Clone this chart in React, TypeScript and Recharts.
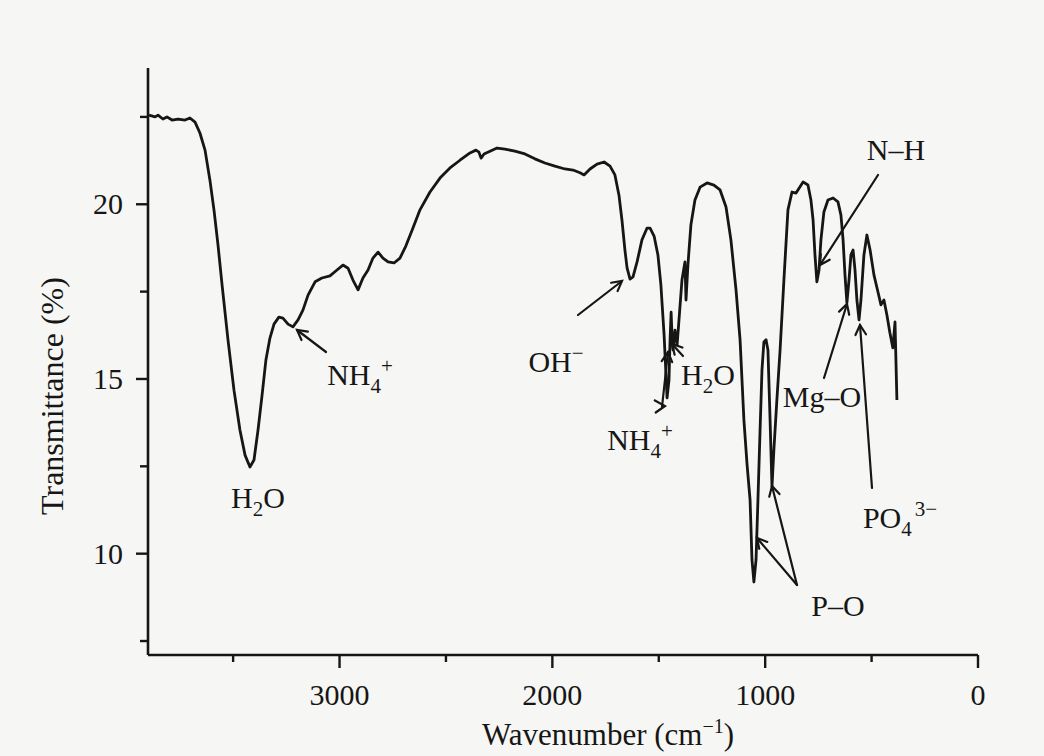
import React from "react";
import { LineChart, Line, XAxis, YAxis } from "recharts";

// FTIR spectrum, wavenumber (cm-1) against transmittance (%)
const wavenumbers = [
  3895, 3867, 3853, 3830, 3811, 3787, 3759, 3726, 3703, 3679,
  3656, 3632, 3609, 3590, 3571, 3552, 3524, 3496, 3468, 3444,
  3421, 3402, 3383, 3364, 3346, 3327, 3308, 3285, 3266, 3242,
  3219, 3195, 3172, 3148, 3115, 3083, 3045, 3012, 2984, 2960,
  2937, 2913, 2890, 2866, 2843, 2819, 2796, 2772, 2744, 2716,
  2688, 2655, 2622, 2575, 2528, 2481, 2434, 2387, 2359, 2345,
  2335, 2321, 2293, 2260, 2223, 2176, 2129, 2082, 2035, 1988,
  1941, 1903, 1870, 1851, 1823, 1790, 1757, 1729, 1706, 1687,
  1673, 1659, 1649, 1635, 1621, 1602, 1579, 1555, 1541, 1522,
  1504, 1490, 1475, 1466, 1461, 1452, 1447, 1442, 1438, 1433,
  1424, 1414, 1405, 1391, 1377, 1372, 1363, 1349, 1330, 1306,
  1273, 1241, 1212, 1184, 1161, 1137, 1118, 1100, 1085, 1071,
  1062, 1053, 1043, 1034, 1024, 1015, 1006, 996, 987, 977,
  968, 959, 945, 930, 912, 893, 874, 855, 846, 822,
  799, 785, 775, 766, 757, 747, 738, 724, 705, 681,
  658, 644, 634, 625, 616, 606, 597, 587, 578, 569,
  559, 550, 536, 522, 507, 489, 470, 456, 442, 428,
  414, 400, 390, 381,
];

const transmittance = [
  22.55, 22.5, 22.55, 22.44, 22.5, 22.41, 22.44, 22.41, 22.47, 22.35,
  22.04, 21.55, 20.69, 19.84, 18.83, 17.69, 16.11, 14.68, 13.54, 12.82,
  12.48, 12.68, 13.54, 14.54, 15.54, 16.17, 16.57, 16.77, 16.74, 16.57,
  16.49, 16.69, 16.97, 17.4, 17.78, 17.89, 17.95, 18.12, 18.26, 18.17,
  17.83, 17.55, 17.89, 18.12, 18.46, 18.63, 18.46, 18.35, 18.32, 18.46,
  18.81, 19.32, 19.84, 20.35, 20.75, 21.04, 21.26, 21.47, 21.55, 21.49,
  21.32, 21.44, 21.52, 21.61, 21.58, 21.52, 21.44, 21.3, 21.18, 21.09,
  21.01, 20.98, 20.9, 20.84, 21.01, 21.15, 21.21, 21.09, 20.84, 20.26,
  19.55, 18.69, 18.18, 17.86, 17.92, 18.35, 18.98, 19.32, 19.32, 19.09,
  18.55, 17.69, 16.26, 15.11, 14.46, 14.97, 16.11, 16.91, 16.26, 15.83,
  16.4, 15.97, 16.69, 17.83, 18.35, 17.26, 18.26, 19.41, 20.12, 20.49,
  20.61, 20.55, 20.41, 19.92, 18.98, 17.55, 16.12, 13.83, 12.54, 11.54,
  9.82, 9.19, 9.82, 11.54, 13.54, 15.26, 16.06, 16.12, 15.83, 13.83,
  11.92, 12.98, 14.4, 15.83, 17.83, 19.84, 20.35, 20.32, 20.41, 20.64,
  20.55, 20.12, 19.55, 18.55, 17.78, 18.12, 18.98, 19.78, 20.12, 20.18,
  20.07, 19.69, 18.98, 17.98, 17.18, 17.84, 18.55, 18.69, 18.12, 17.26,
  16.69, 17.26, 18.55, 19.12, 18.69, 17.98, 17.49, 17.12, 17.26, 16.83,
  16.32, 15.89, 16.63, 14.4,
];

const xTicks = [0, 500, 1000, 1500, 2000, 2500, 3000, 3500];
const yTicks = [7.5, 10, 12.5, 15, 17.5, 20, 22.5];
const xLabelled = [0, 1000, 2000, 3000];
const yLabelled = [10, 15, 20];

const data = wavenumbers.map((wn, i) => ({ wn, t: transmittance[i] }));

const INK = "#161616";
const FONT = '"Liberation Serif", "Times New Roman", serif';
const W = 1044;
const H = 756;

const XTick = (props: any) => {
  const { x, y, payload } = props;
  const major = xLabelled.includes(payload.value);
  return (
    <g>
      <line x1={x} y1={y} x2={x} y2={y + (major ? 13 : 7)} stroke={INK} strokeWidth={2.4} />
      {major && (
        <text x={x} y={y + 50} textAnchor="middle" fontFamily={FONT} fontSize={30} fill={INK}>
          {payload.value}
        </text>
      )}
    </g>
  );
};

const YTick = (props: any) => {
  const { x, y, payload } = props;
  const major = yLabelled.includes(payload.value);
  return (
    <g>
      <line x1={x - (major ? 12 : 8)} y1={y} x2={x} y2={y} stroke={INK} strokeWidth={2.4} />
      {major && (
        <text x={x - 25} y={y + 10} textAnchor="end" fontFamily={FONT} fontSize={30} fill={INK}>
          {payload.value}
        </text>
      )}
    </g>
  );
};

// line with an open arrowhead at (x2, y2)
const Arrow = ({ x1, y1, x2, y2 }: { x1: number; y1: number; x2: number; y2: number }) => {
  const a = Math.atan2(y2 - y1, x2 - x1);
  const len = 11;
  const spread = 0.5;
  const p1 = [x2 - len * Math.cos(a - spread), y2 - len * Math.sin(a - spread)];
  const p2 = [x2 - len * Math.cos(a + spread), y2 - len * Math.sin(a + spread)];
  return (
    <g stroke={INK} strokeWidth={2.2} fill="none" strokeLinecap="round">
      <line x1={x1} y1={y1} x2={x2} y2={y2} />
      <polyline points={`${p1[0]},${p1[1]} ${x2},${y2} ${p2[0]},${p2[1]}`} />
    </g>
  );
};

const Sub = ({ children }: { children: React.ReactNode }) => (
  <tspan dy={8} fontSize={21}>{children}</tspan>
);

const Annotations = () => (
  <svg
    width={W}
    height={H}
    style={{ position: "absolute", left: 0, top: 0, pointerEvents: "none" }}
  >
    <g fontFamily={FONT} fontSize={30} fill={INK}>
      <text x={258} y={508} textAnchor="middle">
        H<Sub>2</Sub><tspan dy={-8}>O</tspan>
      </text>
      <text x={360} y={385} textAnchor="middle">
        NH<Sub>4</Sub><tspan dy={-20} fontSize={21}>+</tspan>
      </text>
      <text x={556} y={372} textAnchor="middle">
        OH<tspan dy={-12} fontSize={21}>−</tspan>
      </text>
      <text x={640} y={450} textAnchor="middle">
        NH<Sub>4</Sub><tspan dy={-20} fontSize={21}>+</tspan>
      </text>
      <text x={708} y={385} textAnchor="middle">
        H<Sub>2</Sub><tspan dy={-8}>O</tspan>
      </text>
      <text x={896} y={160} textAnchor="middle">N–H</text>
      <text x={822} y={407} textAnchor="middle">Mg–O</text>
      <text x={900} y={528} textAnchor="middle">
        PO<Sub>4</Sub><tspan dy={-20} dx={3} fontSize={21}>3−</tspan>
      </text>
      <text x={838} y={616} textAnchor="middle">P–O</text>
    </g>
    <Arrow x1={326} y1={352} x2={297} y2={330} />
    <Arrow x1={578} y1={315} x2={622} y2={281} />
    <Arrow x1={662} y1={407} x2={668} y2={352} />
    <polyline points="654,400 665,406 655,413" stroke={INK} strokeWidth={2.2} fill="none" />
    <Arrow x1={683} y1={356} x2={672} y2={344} />
    <Arrow x1={878} y1={175} x2={820} y2={265} />
    <Arrow x1={824} y1={378} x2={847} y2={304} />
    <Arrow x1={872} y1={488} x2={860} y2={325} />
    <Arrow x1={797} y1={585} x2={757} y2={538} />
    <Arrow x1={797} y1={585} x2={772} y2={486} />
    <text
      x={608}
      y={745}
      textAnchor="middle"
      fontFamily={FONT}
      fontSize={31}
      fill={INK}
    >
      Wavenumber (cm<tspan dy={-12} fontSize={20}>−1</tspan><tspan dy={12}>)</tspan>
    </text>
    <text
      transform="translate(63,396) rotate(-90)"
      textAnchor="middle"
      fontFamily={FONT}
      fontSize={32}
      fill={INK}
    >
      Transmittance (%)
    </text>
  </svg>
);

export default function App() {
  return (
    <div
      style={{
        position: "absolute",
        left: 0,
        top: 0,
        width: W,
        height: H,
        background: "#f6f6f4",
      }}
    >
      <LineChart
        width={W}
        height={H}
        data={data}
        margin={{ top: 68, right: 66, bottom: 41, left: 88 }}
      >
        <XAxis
          dataKey="wn"
          type="number"
          domain={[0, 3900]}
          reversed
          ticks={xTicks}
          interval={0}
          height={60}
          tickSize={0}
          tickMargin={0}
          tickLine={false}
          axisLine={{ stroke: INK, strokeWidth: 2.6 }}
          tick={<XTick />}
        />
        <YAxis
          type="number"
          domain={[7.1, 23.9]}
          ticks={yTicks}
          interval={0}
          width={60}
          tickSize={0}
          tickMargin={0}
          tickLine={false}
          axisLine={{ stroke: INK, strokeWidth: 2.6 }}
          tick={<YTick />}
          allowDataOverflow
        />
        <Line
          type="linear"
          dataKey="t"
          stroke={INK}
          strokeWidth={2.8}
          strokeLinejoin="round"
          dot={false}
          activeDot={false}
          isAnimationActive={false}
        />
      </LineChart>
      <Annotations />
    </div>
  );
}
